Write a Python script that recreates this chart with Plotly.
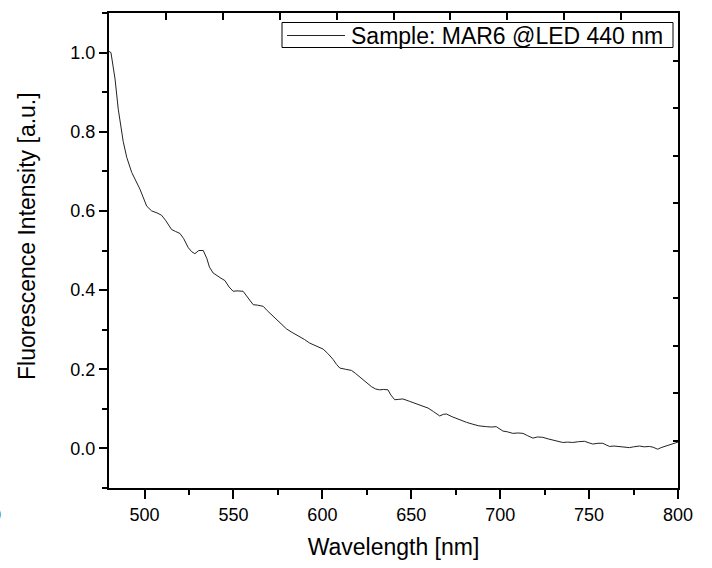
import plotly.graph_objects as go

wavelength = [480.0, 481.1, 483.4, 485.2, 488.0, 490.0, 492.8, 495.6, 497.4, 501.2, 504.0, 507.0, 509.6,
              512.0, 515.2, 517.5, 519.9, 522.0, 524.6, 526.5, 528.3, 530.5, 533.0, 535.0, 536.5, 538.6,
              541.0, 543.0, 545.2, 547.5, 549.8, 552.0, 555.4, 558.0, 561.1, 563.5, 566.7, 569.0, 572.3,
              576.0, 579.8, 583.0, 587.3, 590.0, 592.9, 596.0, 600.4, 603.0, 606.0, 608.0, 609.8, 613.0,
              616.4, 618.5, 621.0, 624.0, 627.6, 630.0, 632.2, 634.5, 636.9, 638.5, 640.7, 643.0, 645.3,
              649.0, 652.9, 656.0, 659.4, 662.5, 666.0, 668.0, 669.7, 673.0, 677.2, 681.0, 684.7, 688.0,
              692.2, 695.0, 697.8, 701.5, 704.0, 707.1, 710.0, 712.8, 715.5, 718.4, 721.0, 724.0, 727.0,
              729.6, 732.0, 735.2, 738.0, 740.8, 744.0, 747.4, 750.0, 752.1, 755.0, 757.7, 760.0, 761.5,
              764.0, 767.1, 770.0, 772.7, 775.0, 778.3, 781.0, 783.9, 786.0, 788.6, 790.5, 792.4, 795.0,
              797.0, 800.0]
intensity = [1.003, 1.000, 0.933, 0.857, 0.775, 0.735, 0.697, 0.671, 0.655, 0.612, 0.600, 0.595, 0.589,
             0.575, 0.553, 0.548, 0.543, 0.530, 0.507, 0.497, 0.492, 0.500, 0.500, 0.480, 0.458, 0.443,
             0.435, 0.430, 0.424, 0.408, 0.397, 0.398, 0.397, 0.380, 0.363, 0.362, 0.359, 0.348, 0.334,
             0.318, 0.302, 0.293, 0.283, 0.275, 0.266, 0.260, 0.251, 0.240, 0.225, 0.212, 0.203, 0.200,
             0.197, 0.190, 0.180, 0.168, 0.156, 0.150, 0.148, 0.149, 0.148, 0.135, 0.123, 0.124, 0.125,
             0.119, 0.113, 0.108, 0.102, 0.093, 0.082, 0.086, 0.087, 0.080, 0.072, 0.066, 0.061, 0.057,
             0.055, 0.054, 0.055, 0.044, 0.042, 0.038, 0.039, 0.038, 0.032, 0.026, 0.029, 0.028, 0.024,
             0.0215, 0.018, 0.015, 0.016, 0.015, 0.017, 0.018, 0.014, 0.011, 0.013, 0.013, 0.008, 0.005,
             0.006, 0.005, 0.003, 0.002, 0.004, 0.006, 0.004, 0.005, 0.003, -0.002, 0.002, 0.005, 0.010,
             0.013, 0.016]

series_name = "Sample: MAR6 @LED 440 nm"
x_title = "Wavelength [nm]"
y_title = "Fluorescence Intensity [a.u.]"

FONT = "Liberation Sans, Arial, sans-serif"
LINE_COLOR = "#222222"

# plot-area geometry in pixels
L, R, T, B = 109, 34, 13, 80
W, H = 712, 568
PW, PH = W - L - R, H - T - B


def px(xp):
    return (xp - L) / PW


def py(yp):
    return 1 - (yp - T) / PH


fig = go.Figure()
fig.add_trace(go.Scatter(x=wavelength, y=intensity, mode="lines", name=series_name,
                         line=dict(color=LINE_COLOR, width=1), showlegend=False))
# dummy trace for the secondary (top/right) frame axes
fig.add_trace(go.Scatter(x=[0, 10], y=[0, 10], xaxis="x2", yaxis="y2", mode="lines",
                         line=dict(width=0), opacity=0, showlegend=False, hoverinfo="skip"))

fig.update_layout(
    width=W, height=H,
    margin=dict(l=L, r=R, t=T, b=B),
    paper_bgcolor="white", plot_bgcolor="white",
    font=dict(family=FONT, size=18, color="black"),
    showlegend=False,
    xaxis=dict(range=[480, 800], dtick=50, tick0=500, ticks="outside", ticklen=9, tickwidth=1.5,
               tickcolor="black", showline=True, linecolor="black", linewidth=2,
               showgrid=False, zeroline=False,
               minor=dict(dtick=25, tick0=475, ticks="outside", ticklen=5, tickwidth=1.5, tickcolor="black"),
               title=dict(text=x_title, font=dict(size=23), standoff=15),
               tickfont=dict(size=18)),
    yaxis=dict(range=[-0.1, 1.1], dtick=0.2, tick0=0, tickformat=".1f", ticks="outside", ticklen=8,
               tickwidth=1.5, tickcolor="black", showline=True, linecolor="black", linewidth=2,
               showgrid=False, zeroline=False,
               minor=dict(dtick=0.1, tick0=0, ticks="outside", ticklen=5, tickwidth=1.5, tickcolor="black"),
               tickfont=dict(size=18)),
    xaxis2=dict(overlaying="x", side="top", anchor="y", range=[0, 10], dtick=1, ticks="inside",
                ticklen=7, tickwidth=1.5, tickcolor="black", showticklabels=False, showline=True,
                linecolor="black", linewidth=1.5, showgrid=False, zeroline=False),
    yaxis2=dict(overlaying="y", side="right", anchor="x", range=[0, 10], dtick=1, ticks="inside",
                ticklen=5, tickwidth=1.5, tickcolor="black", showticklabels=False, showline=True,
                linecolor="black", linewidth=2, showgrid=False, zeroline=False),
)

# y-axis title placed as in the original (slightly above the plot centre)
fig.add_annotation(text=y_title, xref="paper", yref="paper", x=px(27), y=py(236),
                   xanchor="center", yanchor="middle", textangle=-90, showarrow=False,
                   font=dict(size=23, color="black"))

# legend box drawn by hand to match the compact original
fig.add_shape(type="rect", xref="paper", yref="paper",
              x0=px(282), x1=px(673), y0=py(47.5), y1=py(22.5),
              line=dict(color="black", width=1), fillcolor="white", layer="above")
fig.add_shape(type="line", xref="paper", yref="paper",
              x0=px(287), x1=px(345), y0=py(35.5), y1=py(35.5),
              line=dict(color=LINE_COLOR, width=1), layer="above")
fig.add_annotation(text=series_name, xref="paper", yref="paper", x=px(349), y=py(36),
                   xanchor="left", yanchor="middle", showarrow=False,
                   font=dict(size=23, color="black"))

fig.add_annotation(text="0", xref="paper", yref="paper", x=(-4 - L) / PW, y=py(515),
                   xanchor="center", yanchor="middle", showarrow=False, font=dict(size=18, color="black"))

fig.write_html("out.html")
